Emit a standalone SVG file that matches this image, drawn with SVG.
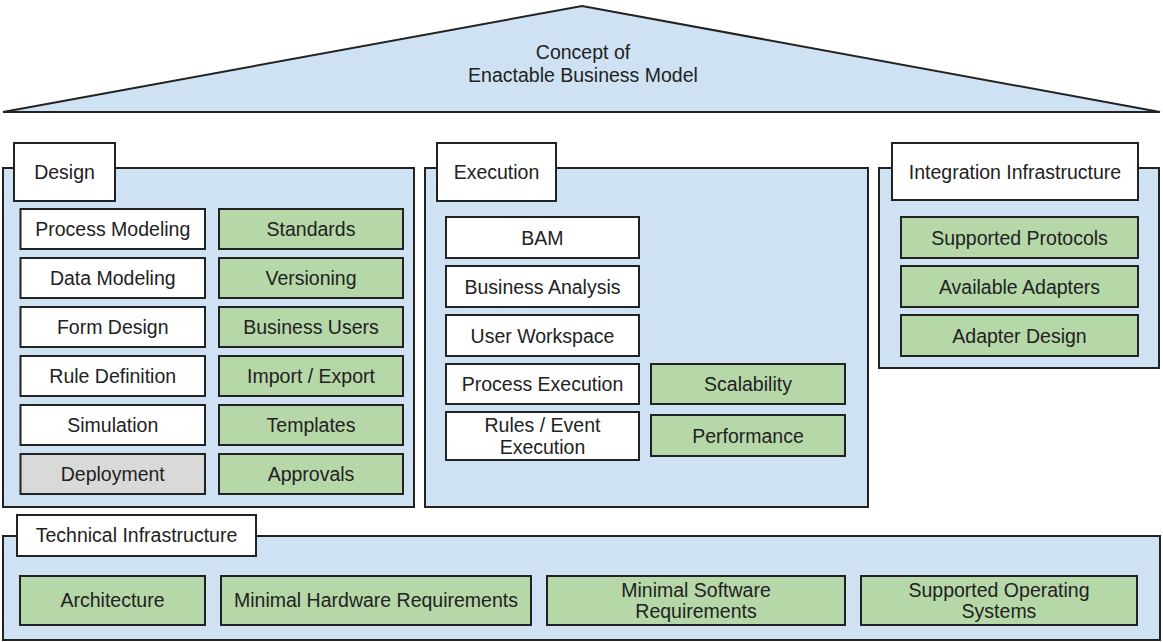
<svg xmlns="http://www.w3.org/2000/svg" width="1163" height="642" viewBox="0 0 1163 642">
  <style>
    .panel { fill: #cfe2f3; stroke: #222; stroke-width: 2; }
    .tab { fill: #ffffff; stroke: #222; stroke-width: 2; }
    .white { fill: #ffffff; stroke: #222; stroke-width: 2; }
    .green { fill: #b6d7a8; stroke: #222; stroke-width: 2; }
    .gray { fill: #d9d9d9; stroke: #222; stroke-width: 2; }
    text { font-family: "Liberation Sans", Arial, sans-serif; font-size: 19.5px; fill: #222; text-anchor: middle; }
    .left { text-anchor: start; }
  </style>

  <!-- Roof -->
  <g id="roof">
    <polygon points="3,112 582,6 1160,112" class="panel"/>
    <text x="583" y="59">Concept of</text>
    <text x="583" y="82">Enactable Business Model</text>
  </g>

  <!-- Design pillar -->
  <g id="design">
    <rect x="3" y="168" width="411" height="339" class="panel"/>
    <rect x="14" y="143" width="101" height="58" class="tab"/>
    <text x="64.5" y="179">Design</text>
  </g>
  <g id="design-items">
    <g id="process-modeling"><rect x="20.5" y="209" width="184.5" height="40" class="white"/><text x="112.75" y="236">Process Modeling</text></g>
    <g id="data-modeling"><rect x="20.5" y="258" width="184.5" height="40" class="white"/><text x="112.75" y="285">Data Modeling</text></g>
    <g id="form-design"><rect x="20.5" y="307" width="184.5" height="40" class="white"/><text x="112.75" y="334">Form Design</text></g>
    <g id="rule-definition"><rect x="20.5" y="356" width="184.5" height="40" class="white"/><text x="112.75" y="383">Rule Definition</text></g>
    <g id="simulation"><rect x="20.5" y="405" width="184.5" height="40" class="white"/><text x="112.75" y="432">Simulation</text></g>
    <g id="deployment"><rect x="20.5" y="454" width="184.5" height="40" class="gray"/><text x="112.75" y="481">Deployment</text></g>
    <g id="standards"><rect x="219" y="209" width="184" height="40" class="green"/><text x="311" y="236">Standards</text></g>
    <g id="versioning"><rect x="219" y="258" width="184" height="40" class="green"/><text x="311" y="285">Versioning</text></g>
    <g id="business-users"><rect x="219" y="307" width="184" height="40" class="green"/><text x="311" y="334">Business Users</text></g>
    <g id="import-export"><rect x="219" y="356" width="184" height="40" class="green"/><text x="311" y="383">Import / Export</text></g>
    <g id="templates"><rect x="219" y="405" width="184" height="40" class="green"/><text x="311" y="432">Templates</text></g>
    <g id="approvals"><rect x="219" y="454" width="184" height="40" class="green"/><text x="311" y="481">Approvals</text></g>
  </g>

  <!-- Execution pillar -->
  <g id="execution">
    <rect x="425" y="168" width="443" height="339" class="panel"/>
    <rect x="437" y="143" width="119" height="58" class="tab"/>
    <text x="496.5" y="179">Execution</text>
  </g>
  <g id="execution-items">
    <g id="bam"><rect x="446" y="217" width="193" height="41" class="white"/><text x="542.5" y="244.5">BAM</text></g>
    <g id="business-analysis"><rect x="446" y="266" width="193" height="41" class="white"/><text x="542.5" y="293.5">Business Analysis</text></g>
    <g id="user-workspace"><rect x="446" y="315" width="193" height="41" class="white"/><text x="542.5" y="342.5">User Workspace</text></g>
    <g id="process-execution"><rect x="446" y="364" width="193" height="40" class="white"/><text x="542.5" y="391">Process Execution</text></g>
    <g id="rules-event-execution"><rect x="446" y="412" width="193" height="48" class="white"/><text x="542.5" y="432">Rules / Event</text><text x="542.5" y="454">Execution</text></g>
    <g id="scalability"><rect x="651" y="364" width="194" height="40" class="green"/><text x="748" y="391">Scalability</text></g>
    <g id="performance"><rect x="651" y="415" width="194" height="41" class="green"/><text x="748" y="442.5">Performance</text></g>
  </g>

  <!-- Integration infrastructure pillar -->
  <g id="integration">
    <rect x="879" y="168" width="280" height="200" class="panel"/>
    <rect x="892" y="143" width="246" height="57" class="tab"/>
    <text x="1015" y="178.5">Integration Infrastructure</text>
  </g>
  <g id="integration-items">
    <g id="supported-protocols"><rect x="901" y="217" width="237" height="41" class="green"/><text x="1019.5" y="244.5">Supported Protocols</text></g>
    <g id="available-adapters"><rect x="901" y="266" width="237" height="41" class="green"/><text x="1019.5" y="293.5">Available Adapters</text></g>
    <g id="adapter-design"><rect x="901" y="315" width="237" height="41" class="green"/><text x="1019.5" y="342.5">Adapter Design</text></g>
  </g>

  <!-- Technical infrastructure foundation -->
  <g id="technical">
    <rect x="3" y="536" width="1157" height="104" class="panel"/>
    <rect x="17" y="515" width="239" height="41" class="tab"/>
    <text x="136.5" y="542">Technical Infrastructure</text>
  </g>
  <g id="technical-items">
    <g id="architecture"><rect x="20" y="576" width="185" height="49" class="green"/><text x="112.5" y="607">Architecture</text></g>
    <g id="min-hardware"><rect x="221" y="576" width="310" height="49" class="green"/><text x="376" y="607">Minimal Hardware Requirements</text></g>
    <g id="min-software"><rect x="547" y="576" width="298" height="49" class="green"/><text x="696" y="597">Minimal Software</text><text x="696" y="618">Requirements</text></g>
    <g id="supported-os"><rect x="861" y="576" width="276" height="49" class="green"/><text x="999" y="597">Supported Operating</text><text x="999" y="618">Systems</text></g>
  </g>

  <!-- No connectors in this diagram -->
  <g id="connectors"/>
</svg>
